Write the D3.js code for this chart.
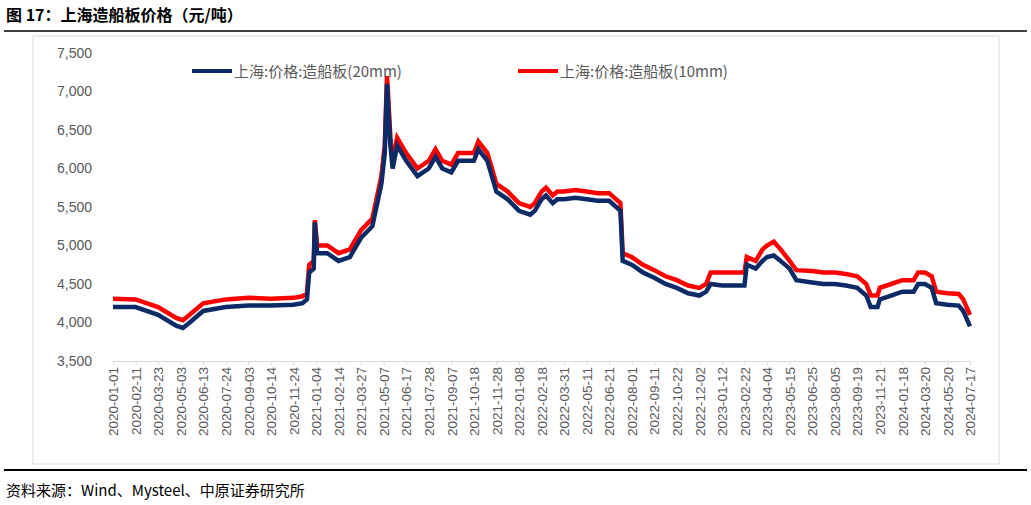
<!DOCTYPE html>
<html><head><meta charset="utf-8">
<script src="https://cdn.jsdelivr.net/npm/d3@7"></script>
<style>body{margin:0;background:#fff;font-family:"Noto Sans CJK SC","Liberation Sans",sans-serif;}</style>
</head><body><div id="main"></div>
<script>
var dateLabels = ["2020-01-01","2020-02-11","2020-03-23","2020-05-03","2020-06-13","2020-07-24","2020-09-03","2020-10-14","2020-11-24",
  "2021-01-04","2021-02-14","2021-03-27","2021-05-07","2021-06-17","2021-07-28","2021-09-07","2021-10-18","2021-11-28",
  "2022-01-08","2022-02-18","2022-03-31","2022-05-11","2022-06-21","2022-08-01","2022-09-11","2022-10-22","2022-12-02",
  "2023-01-12","2023-02-22","2023-04-04","2023-05-15","2023-06-25","2023-08-05","2023-09-19","2023-11-21",
  "2024-01-18","2024-03-20","2024-05-20","2024-07-17"];
var yTicks = [3500,4000,4500,5000,5500,6000,6500,7000,7500];
// position on the label axis (index of date label)
var pos = [0,1,2,2.8,3.1,3.4,4,5,6,7,8,8.4,8.6,8.7,8.9,8.95,9.05,9.5,10,10.5,11,11.5,11.9,12.05,12.15,12.3,12.4,12.6,13,13.5,14,14.3,14.6,15,15.3,15.6,16,16.2,16.6,17,17.5,18,18.5,18.7,19,19.2,19.5,19.7,20,20.5,21,21.5,22,22.5,22.6,23,23.5,24,24.5,25,25.5,26,26.3,26.5,27,27.5,28,28.1,28.5,28.8,29,29.3,29.6,30,30.3,31,31.5,32,32.5,33,33.4,33.6,33.9,34,34.5,35,35.5,35.7,36,36.3,36.5,37,37.5,37.7,38];
var plate20 = [4200,4200,4100,3960,3930,4000,4150,4200,4220,4220,4230,4250,4300,4650,4700,5300,4900,4900,4800,4850,5100,5250,5800,6200,7100,6300,6000,6300,6100,5900,6000,6150,6000,5950,6100,6100,6100,6250,6100,5700,5600,5450,5400,5450,5600,5650,5550,5600,5600,5620,5600,5580,5580,5450,4800,4750,4650,4580,4500,4450,4380,4350,4400,4500,4480,4480,4480,4750,4700,4800,4850,4870,4800,4700,4550,4520,4500,4500,4480,4450,4350,4200,4200,4300,4350,4400,4400,4500,4500,4450,4250,4230,4220,4150,3950];
var plate10 = [4310,4300,4200,4060,4030,4100,4250,4300,4320,4310,4320,4340,4380,4750,4800,5330,5000,5000,4900,4950,5200,5350,5900,6300,7200,6400,6100,6400,6200,6000,6100,6250,6100,6050,6200,6200,6200,6350,6200,5800,5700,5550,5500,5550,5700,5750,5650,5700,5700,5720,5700,5680,5680,5550,4900,4850,4750,4680,4600,4550,4480,4450,4500,4650,4650,4650,4650,4850,4800,4950,5000,5050,4950,4800,4680,4670,4650,4650,4630,4600,4500,4350,4350,4450,4500,4550,4550,4650,4650,4600,4400,4380,4370,4300,4100];

var W = 1031, H = 505;
var svg = d3.select("#main").append("svg").attr("width", W).attr("height", H);

svg.append("text").attr("x", 6).attr("y", 21).attr("font-size", 16).attr("font-weight", "bold")
  .text("图 17：上海造船板价格（元/吨）");
svg.append("line").attr("x1", 4).attr("x2", 1027).attr("y1", 31).attr("y2", 31).attr("stroke", "#000").attr("stroke-width", 1.5);
svg.append("line").attr("x1", 4).attr("x2", 1027).attr("y1", 470).attr("y2", 470).attr("stroke", "#000").attr("stroke-width", 2);
svg.append("rect").attr("x", 33).attr("y", 36).attr("width", 966).attr("height", 428)
  .attr("fill", "none").attr("stroke", "#d9d9d9");
svg.append("text").attr("x", 6).attr("y", 496).attr("font-size", 15).text("资料来源：Wind、Mysteel、中原证券研究所");

var x = d3.scaleLinear().domain([0, dateLabels.length - 1]).range([113, 970]);
var y = d3.scaleLinear().domain([3500, 7500]).range([361, 53]);

var yAxis = svg.append("g").attr("transform", "translate(100,0)")
  .call(d3.axisLeft(y).tickValues(yTicks).tickFormat(d3.format(",")).tickSize(0).tickPadding(8));
yAxis.select(".domain").remove();
yAxis.selectAll("text").attr("font-size", 14).attr("fill", "#595959").attr("font-family", "Liberation Sans, sans-serif");

var xAxis = svg.append("g").attr("transform", "translate(0,361)")
  .call(d3.axisBottom(x).tickValues(d3.range(dateLabels.length)).tickFormat(function(i){ return dateLabels[i]; }).tickSize(4));
xAxis.select(".domain").attr("stroke", "#d9d9d9");
xAxis.selectAll("line").attr("stroke", "#d9d9d9");
xAxis.selectAll("text").attr("font-size", 13.5).attr("fill", "#595959").attr("font-family", "Liberation Sans, sans-serif")
  .attr("transform", "rotate(-90)").attr("text-anchor", "end").attr("dx", "-6").attr("dy", "0.35em").attr("x", 0).attr("y", 0);

var line = d3.line().x(function(d){ return x(d[0]); }).y(function(d){ return y(d[1]); });
svg.append("path").datum(pos.map(function(p, i){ return [p, plate10[i]]; }))
  .attr("d", line).attr("fill", "none").attr("stroke", "#ff0000").attr("stroke-width", 4.5);
svg.append("path").datum(pos.map(function(p, i){ return [p, plate20[i]]; }))
  .attr("d", line).attr("fill", "none").attr("stroke", "#0c2a66").attr("stroke-width", 4.5);

var legend = [["上海:价格:造船板(20mm)", "#0c2a66", 192], ["上海:价格:造船板(10mm)", "#ff0000", 518]];
legend.forEach(function(l){
  svg.append("line").attr("x1", l[2]).attr("x2", l[2] + 40).attr("y1", 71).attr("y2", 71).attr("stroke", l[1]).attr("stroke-width", 4);
  svg.append("text").attr("x", l[2] + 42).attr("y", 77).attr("font-size", 15).attr("fill", "#595959").text(l[0]);
});
</script></body></html>
